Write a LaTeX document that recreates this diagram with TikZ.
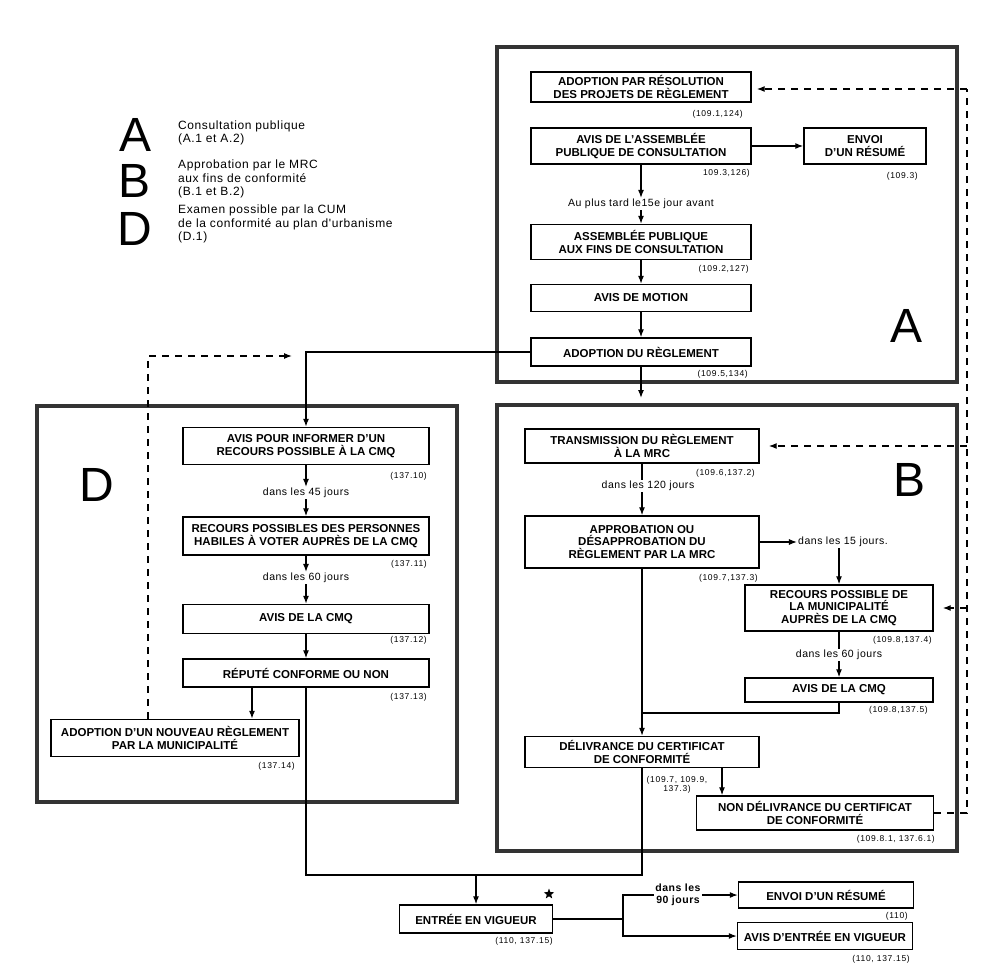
\documentclass[tikz,border=0pt]{standalone}
\usepackage{fontspec}
\setmainfont{Liberation Sans}
\newfontfamily\reffont[LetterSpace=8]{Liberation Sans}
\newfontfamily\lblfont[LetterSpace=5]{Liberation Sans}
\usetikzlibrary{arrows.meta,shapes.geometric}

\begin{document}
\begin{tikzpicture}%
[x=1pt,y=-1pt,
box/.style={draw, line width=1.4pt, align=center, inner sep=0pt, font=\bfseries\fontsize{11.5}{12.5}\selectfont},
ref/.style={anchor=east, inner sep=0pt, font=\reffont\fontsize{8.5}{9.5}\selectfont},
lbl/.style={inner sep=1pt, align=center, font=\lblfont\fontsize{10.5}{11.5}\selectfont},
big/.style={inner sep=0pt, font=\fontsize{48}{48}\selectfont},
legtext/.style={anchor=west, align=left, inner sep=0pt, font=\lblfont\fontsize{12}{13.5}\selectfont},
panel/.style={draw=black!80, line width=3.6pt},
conn/.style={line width=1.2pt},
arr/.style={line width=1.2pt, -{Latex[length=8pt,width=6pt]}},
dashline/.style={line width=1.3pt, dash pattern=on 7pt off 6pt}]
\useasboundingbox (0,0) rectangle (990,968);

% legend
\node[big] (legA) at (136,135) {A};
\node[big] (legB) at (135,181) {B};
\node[big] (legD) at (135,229) {D};
\node[legtext] (txtA) at (178,133) {Consultation publique\\(A.1 et A.2)};
\node[legtext] (txtB) at (178,179) {Approbation par le MRC\\aux fins de conformité\\(B.1 et B.2)};
\node[legtext] (txtD) at (178,224) {Examen possible par la CUM\\de la conformité au plan d'urbanisme\\(D.1)};

% frames
\draw[panel] (497,47) rectangle (957,382);
\draw[panel] (497,405) rectangle (957,851);
\draw[panel] (37,406) rectangle (457,802);
\node[big] (letA) at (906,326) {A};
\node[big] (letB) at (909,480) {B};
\node[big] (letD) at (97,485) {D};

% A
\node[box, minimum width=220pt, minimum height=30pt] (adoptres) at (641,87) {ADOPTION PAR RÉSOLUTION\\DES PROJETS DE RÈGLEMENT};
\node[box, minimum width=220pt, minimum height=36pt] (avisass) at (641,146) {AVIS DE L'ASSEMBLÉE\\PUBLIQUE DE CONSULTATION};
\node[box, minimum width=122pt, minimum height=36pt] (envoi) at (865,146) {ENVOI\\D'UN RÉSUMÉ};
\node[lbl] (lblA) at (641,204) {Au plus tard le15e jour avant};
\node[box, minimum width=220pt, minimum height=35pt] (assemb) at (641,242) {ASSEMBLÉE PUBLIQUE\\AUX FINS DE CONSULTATION};
\node[box, minimum width=220pt, minimum height=27pt] (motion) at (641,298) {AVIS DE MOTION};
\node[box, minimum width=220pt, minimum height=28pt] (adoptreg) at (641,352) {ADOPTION DU RÈGLEMENT};
\node[ref] (radoptres) at (743,114) {(109.1,124)};
\node[ref] (ravisass) at (750,173) {109.3,126)};
\node[ref] (renvoi) at (918,176) {(109.3)};
\node[ref] (rassemb) at (749,269) {(109.2,127)};
\node[ref] (radoptreg) at (748,374) {(109.5,134)};

\draw[arr] (avisass) -- (envoi);
\draw[arr] (avisass) -- (lblA);
\draw[arr] (lblA) -- (assemb);
\draw[arr] (assemb) -- (motion);
\draw[arr] (motion) -- (adoptreg);
\coordinate (toB) at (641,398);
\draw[arr] (adoptreg) -- (toB);

% B
\node[box, minimum width=234pt, minimum height=34pt] (transm) at (642,446) {TRANSMISSION DU RÈGLEMENT\\À LA MRC};
\node[lbl] (lbl120) at (648,486) {dans les 120 jours};
\node[box, minimum width=234pt, minimum height=52pt] (approb) at (642,542) {APPROBATION OU\\DÉSAPPROBATION DU\\RÈGLEMENT PAR LA MRC};
\node[lbl] (lbl15) at (843,542) {dans les 15 jours.};
\node[box, minimum width=188pt, minimum height=46pt] (recours) at (839,608) {RECOURS POSSIBLE DE\\LA MUNICIPALITÉ\\AUPRÈS DE LA CMQ};
\node[lbl] (lbl60b) at (839,655) {dans les 60 jours};
\node[box, minimum width=188pt, minimum height=24pt] (aviscmqb) at (839,690) {AVIS DE LA CMQ};
\node[box, minimum width=234pt, minimum height=31pt] (deliv) at (642,752) {DÉLIVRANCE DU CERTIFICAT\\DE CONFORMITÉ};
\node[box, minimum width=237pt, minimum height=34pt] (nondeliv) at (815,813) {NON DÉLIVRANCE DU CERTIFICAT\\DE CONFORMITÉ};
\node[ref] (rtransm) at (755,473) {(109.6,137.2)};
\node[ref] (rapprob) at (758,578) {(109.7,137.3)};
\node[ref] (rrecours) at (932,640) {(109.8,137.4)};
\node[ref] (raviscmqb) at (928,710) {(109.8,137.5)};
\node[ref, anchor=center, align=center] (rdeliv) at (677,785) {(109.7, 109.9,\\137.3)};
\node[ref] (rnondeliv) at (935,839) {(109.8.1, 137.6.1)};

\draw[conn] (transm) -- (transm.south |- lbl120.north);
\draw[arr] (transm.south |- lbl120.south) -- (approb);
\draw[arr] (approb) -- (lbl15);
\draw[arr] (lbl15.south -| recours.north) -- (recours);
\draw[conn] (recours) -- (lbl60b);
\draw[arr] (lbl60b) -- (aviscmqb);
\coordinate (merge) at (642,713);
\draw[conn] (aviscmqb.south) |- (merge);
\draw[arr] (approb) -- (deliv);
\coordinate (dx) at (722,0);
\draw[arr] (deliv.south -| dx) -- (nondeliv.north -| dx);

% D
\node[box, minimum width=246pt, minimum height=37pt] (avispour) at (306,446) {AVIS POUR INFORMER D'UN\\RECOURS POSSIBLE À LA CMQ};
\node[lbl] (lbl45) at (306,493) {dans les 45 jours};
\node[box, minimum width=246pt, minimum height=38pt] (recpers) at (306,536) {RECOURS POSSIBLES DES PERSONNES\\HABILES À VOTER AUPRÈS DE LA CMQ};
\node[lbl] (lbl60d) at (306,578) {dans les 60 jours};
\node[box, minimum width=246pt, minimum height=29pt] (aviscmqd) at (306,619) {AVIS DE LA CMQ};
\node[box, minimum width=246pt, minimum height=28pt] (repute) at (306,673) {RÉPUTÉ CONFORME OU NON};
\node[box, minimum width=248pt, minimum height=37pt] (adopnouv) at (175,738) {ADOPTION D'UN NOUVEAU RÈGLEMENT\\PAR LA MUNICIPALITÉ};
\node[ref] (ravispour) at (427,476) {(137.10)};
\node[ref] (rrecpers) at (427,564) {(137.11)};
\node[ref] (raviscmqd) at (427,640) {(137.12)};
\node[ref] (rrepute) at (427,697) {(137.13)};
\node[ref] (radopnouv) at (295,766) {(137.14)};

\draw[arr] (adoptreg.west) -| (avispour.north);
\draw[arr] (avispour) -- (lbl45);
\draw[arr] (lbl45) -- (recpers);
\draw[arr] (recpers) -- (lbl60d);
\draw[arr] (lbl60d) -- (aviscmqd);
\draw[arr] (aviscmqd) -- (repute);
\coordinate (rx) at (252,0);
\draw[arr] (repute.south -| rx) -- (adopnouv.north -| rx);

% dashed returns
\coordinate (dcorner) at (148,356);
\coordinate (dend) at (292,356);
\draw[arr, dashline] (adopnouv.north -| dcorner) -- (dcorner) -- (dend);
\coordinate (dtop) at (967,89);
\draw[dashline] (nondeliv.east) -| (dtop);
\draw[arr, dashline, shorten >=5pt] (dtop) -- (adoptres.east |- dtop);
\draw[arr, dashline, shorten >=9pt] (transm.east -| dtop) -- (transm.east);
\draw[arr, dashline, shorten >=9pt] (recours.east -| dtop) -- (recours.east);

% entree en vigueur
\node[box, minimum width=153pt, minimum height=28pt] (entree) at (476,919) {ENTRÉE EN VIGUEUR};
\node[star, star points=5, star point ratio=2.4, fill, inner sep=0pt, minimum size=11pt] (etoile) at (549,894) {};
\node[lbl, font=\lblfont\bfseries\fontsize{10.5}{11.5}\selectfont] (lbl90) at (678,895) {dans les\\90 jours};
\node[box, minimum width=175pt, minimum height=26pt] (envoires) at (826,895) {ENVOI D'UN RÉSUMÉ};
\node[box, minimum width=175pt, minimum height=27pt] (avisentree) at (825,936) {AVIS D'ENTRÉE EN VIGUEUR};
\node[ref] (rentree) at (553,941) {(110, 137.15)};
\node[ref] (renvoires) at (908,916) {(110)};
\node[ref] (ravisentree) at (910,959) {(110, 137.15)};

\coordinate (join) at (476,875);
\draw[conn] (repute.south) |- (join);
\draw[conn] (deliv.south) |- (join);
\draw[arr] (join) -- (entree);
\coordinate (fork) at (623,919);
\draw[conn] (entree.east) -- (fork);
\draw[conn] (fork) |- (lbl90.west);
\draw[arr] (lbl90.east) -- (envoires.west);
\draw[arr] (fork) |- (avisentree.west);
\end{tikzpicture}
\end{document}
